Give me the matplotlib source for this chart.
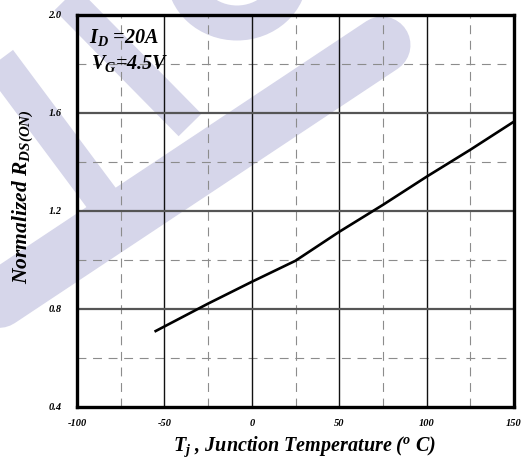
import matplotlib
matplotlib.use("Agg")
import matplotlib.pyplot as plt
from matplotlib.lines import Line2D
from matplotlib.patches import Arc

# R_DS(on) vs junction temperature
temp_c = [-55, -25, 0, 25, 50, 75, 100, 125, 150]
r_norm = [0.71, 0.822, 0.911, 0.997, 1.115, 1.225, 1.34, 1.45, 1.565]

x_major = [-100, -50, 0, 50, 100, 150]
x_minor = [-75, -25, 25, 75, 125]
y_major = [0.4, 0.8, 1.2, 1.6, 2.0]
y_minor = [0.6, 1.0, 1.4, 1.8]
x_labels = ["-100", "-50", "0", "50", "100", "150"]
y_labels = ["0.4", "0.8", "1.2", "1.6", "2.0"]

SERIF = "Liberation Serif"
plt.rcParams["font.family"] = [SERIF, "DejaVu Serif"]
plt.rcParams["mathtext.fontset"] = "custom"
for key in ("mathtext.rm", "mathtext.it", "mathtext.bf", "mathtext.sf"):
    plt.rcParams[key] = f"{SERIF}:style=italic:weight=bold"
plt.rcParams["mathtext.default"] = "it"

W, H = 521, 468
fig = plt.figure(figsize=(W / 100, H / 100), dpi=100)
fig.patch.set_facecolor("white")

# light logo strokes behind the plot
wm = "#d6d6ea"
def px(x, y):
    return x / W, 1 - y / H

def stroke(p0, p1, width, cap="butt"):
    (x0, y0), (x1, y1) = px(*p0), px(*p1)
    fig.add_artist(Line2D([x0, x1], [y0, y1], transform=fig.transFigure,
                          color=wm, lw=width * 0.72, solid_capstyle=cap, zorder=0))

stroke((62, -5), (190, 125), 32)
stroke((-5, 55), (103, 200), 35)
stroke((382, 45), (-20, 312), 57, cap="round")
cx, cy = px(237, -25)
fig.add_artist(Arc((cx, cy), 2 * 53 / W, 2 * 48 / H, theta1=180, theta2=360,
                   transform=fig.transFigure, color=wm, lw=35 * 0.72, zorder=0))

ax = fig.add_axes([77 / W, 1 - 407 / H, (514 - 77) / W, (407 - 15) / H])
ax.set_facecolor("none")
ax.set_xlim(-100, 150)
ax.set_ylim(0.4, 2.0)

for v in x_minor:
    ax.axvline(v, color="#8c8c8c", lw=0.8, ls=(0, (8, 6)), zorder=1)
for v in y_minor:
    ax.axhline(v, color="#8c8c8c", lw=0.8, ls=(0, (8, 6)), zorder=1)
for v in x_major[1:-1]:
    ax.axvline(v, color="#111111", lw=1.0, zorder=2)
for v in y_major[1:-1]:
    ax.axhline(v, color="#555555", lw=1.6, zorder=2)

ax.plot(temp_c, r_norm, color="black", lw=1.9, zorder=3)

for s in ax.spines.values():
    s.set_linewidth(2.4)
    s.set_color("black")

tick_font = dict(family=SERIF, style="italic", weight="bold", size=7.5)
ax.set_xticks(x_major)
ax.set_xticklabels(x_labels, fontdict=tick_font)
ax.set_yticks(y_major)
ax.set_yticklabels(y_labels, fontdict=tick_font)
ax.tick_params(axis="both", length=0)
ax.tick_params(axis="x", pad=9)
ax.tick_params(axis="y", pad=11)

label_font = dict(family=SERIF, style="italic", weight="bold")
ax.set_xlabel(r"$T_j$ , Junction Temperature ($^o$ C)", fontsize=14.5, **label_font)
ax.xaxis.set_label_coords((305 - 77) / 437, -(447 - 407) / 392)
ax.xaxis.label.set_va("center")
ax.set_ylabel(r"Normalized R$_{DS(ON)}$", fontsize=15.5, **label_font)
ax.yaxis.set_label_coords(-(77 - 23) / 437, (407 - 197) / 392)
ax.yaxis.label.set_va("center")

ax.text(-93, 1.91, r"$I_D$ =20A", fontsize=14.5, ha="left", va="center",
        zorder=4, **label_font)
ax.text(-92, 1.80, r"$V_G$=4.5V", fontsize=14.5, ha="left", va="center",
        zorder=4, **label_font)

fig.savefig("out.png", dpi=100)
